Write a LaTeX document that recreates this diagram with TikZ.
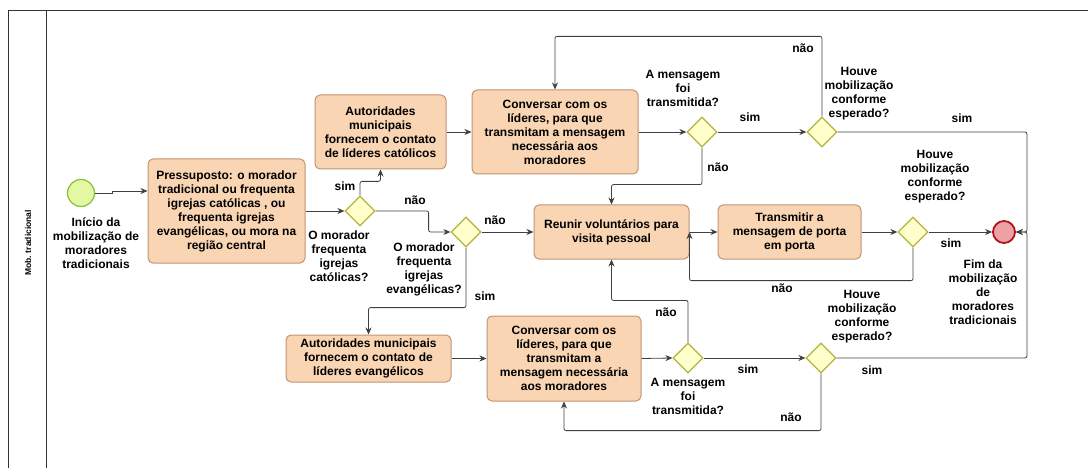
\documentclass[tikz,border=0pt]{standalone}
\usepackage{fontspec}
\setmainfont{Liberation Sans}
\usetikzlibrary{shapes.geometric,arrows.meta}
\definecolor{taskfill}{HTML}{F9D5B4}
\definecolor{taskline}{HTML}{C39372}
\definecolor{gatefill}{HTML}{FFFFCC}
\definecolor{gateline}{HTML}{B5B33C}
\definecolor{startfill}{HTML}{E4F7A2}
\definecolor{startline}{HTML}{88C13C}
\definecolor{endfill}{HTML}{ECA2A5}
\definecolor{endline}{HTML}{B2121B}
\definecolor{flowline}{HTML}{404040}
\begin{document}
\begin{tikzpicture}[x=1pt,y=-1pt,
  every node/.style={font=\fontsize{12}{14}\selectfont\bfseries, align=center, inner sep=0pt},
  task/.style={draw=taskline, fill=taskfill, rounded corners=5pt, line width=1pt},
  gate/.style={diamond, draw=gateline, fill=gatefill, line width=1.2pt, minimum width=30pt, minimum height=30pt},
  flow/.style={draw=flowline, line width=0.8pt, rounded corners=2pt, -{Stealth[length=7pt,width=6pt]}},
  lbl/.style={text=black}]
  \useasboundingbox (0,0) rectangle (1088,468);
  \draw[line width=1pt, black!80] (1088,11) -- (8,11) -- (8,468);
  \draw[line width=1pt, black!80] (46,11) -- (46,468);
  \node[rotate=90, font=\fontsize{8.5}{10}\selectfont\bfseries] (lane) at (28,243) {Mob. tradicional};

  % eventos
  \node[circle, draw=startline, fill=startfill, line width=1.2pt, minimum size=27pt] (ini) at (81,193) {};
  \node[lbl] (iniTxt) at (96,243) {Início da\\mobilização de\\moradores\\tradicionais};
  \node[circle, draw=endline, fill=endfill, line width=1.8pt, minimum size=22pt] (fim) at (1004,232) {};
  \node[lbl] (fimTxt) at (983,292) {Fim da\\mobilização\\de\\moradores\\tradicionais};

  % tarefas
  \node[task, minimum width=157pt, minimum height=104pt] (pres) at (226.5,211) {Pressuposto: o morador\\tradicional ou frequenta\\igrejas católicas , ou\\frequenta igrejas\\evangélicas, ou mora na\\região central};
  \node[task, minimum width=131pt, minimum height=74pt] (autCat) at (380.5,132) {Autoridades\\municipais\\fornecem o contato\\de líderes católicos};
  \node[task, minimum width=166pt, minimum height=84pt] (convCat) at (555,132) {Conversar com os\\líderes, para que\\transmitam a mensagem\\necessária aos\\moradores};
  \node[task, minimum width=155pt, minimum height=54pt] (reunir) at (611.5,232) {Reunir voluntários para\\visita pessoal};
  \node[task, minimum width=143pt, minimum height=54pt] (transm) at (789.5,232) {Transmitir a\\mensagem de porta\\em porta};
  \node[task, minimum width=165pt, minimum height=47pt] (autEv) at (368.5,358.5) {Autoridades municipais\\fornecem o contato de\\líderes evangélicos};
  \node[task, minimum width=154pt, minimum height=85pt] (convEv) at (564,358.5) {Conversar com os\\líderes, para que\\transmitam a\\mensagem necessária\\aos moradores};

  % gateways
  \node[gate] (gCat) at (360,211) {};
  \node[gate] (gEv) at (466,232) {};
  \node[gate] (gMsgCat) at (702,132) {};
  \node[gate] (gMobCat) at (822,132) {};
  \node[gate] (gMobPorta) at (913,232) {};
  \node[gate] (gMsgEv) at (688,358) {};
  \node[gate] (gMobEv) at (821,358) {};
  \node[lbl] (gCatTxt) at (339,256) {O morador\\frequenta\\igrejas\\católicas?};
  \node[lbl] (gEvTxt) at (424,269) {O morador\\frequenta\\igrejas\\evangélicas?};
  \node[lbl] (gMsgCatTxt) at (683,88) {A mensagem\\foi\\transmitida?};
  \node[lbl] (gMobCatTxt) at (859,94) {Houve\\mobilização\\conforme\\esperado?};
  \node[lbl] (gMobPortaTxt) at (935,177) {Houve\\mobilização\\conforme\\esperado?};
  \node[lbl] (gMsgEvTxt) at (688,396) {A mensagem\\foi\\transmitida?};
  \node[lbl] (gMobEvTxt) at (862,317) {Houve\\mobilização\\conforme\\esperado?};

  % fluxos
  \draw[flow, rounded corners=0pt] (ini.east) -- ++(17,0) -- ++(0,-2) -- ([yshift=20pt]pres.west);
  \draw[flow] (pres.east) -- (gCat.west);
  \draw[flow] (gCat.north) -- ++(0,-14) -| (autCat.south);
  \draw[flow] (autCat.east) -- (convCat.west);
  \draw[flow] (convCat.east) -- (gMsgCat.west);
  \draw[flow] (gMsgCat.east) -- (gMobCat.west);
  \draw[flow] (gMobCat.north) -- ++(0,-80) -| (convCat.north);
  \draw[flow] (gMobCat.east) -| ([xshift=11pt]fim.east) -- (fim.east);
  \draw[flow] (gMsgCat.south) -- ++(0,37) -| (reunir.north);
  \draw[flow] (gCat.east) -- ++(53,0) |- (gEv.west);
  \draw[flow] (gEv.east) -- (reunir.west);
  \draw[flow] (reunir.east) -- (transm.west);
  \draw[flow] (transm.east) -- (gMobPorta.west);
  \draw[flow] (gMobPorta.east) -- (fim.west);
  \draw[flow] (gMobPorta.south) -- ++(0,33) -| (reunir.east);
  \draw[flow] (gEv.south) -- ++(0,60) -| (autEv.north);
  \draw[flow] (autEv.east) -- (convEv.west);
  \draw[flow] (convEv.east) -- (gMsgEv.west);
  \draw[flow] (gMsgEv.north) -- ++(0,-42) -| (reunir.south);
  \draw[flow] (gMsgEv.east) -- (gMobEv.west);
  \draw[flow] (gMobEv.south) -- ++(0,57) -| (convEv.south);
  \draw[flow] (gMobEv.east) -| ([xshift=11pt]fim.east) -- (fim.east);

  % rotulos dos fluxos
  \node[lbl] (simCat) at (345,186) {sim};
  \node[lbl] (naoCat) at (415,200) {não};
  \node[lbl] (naoEv) at (495,220) {não};
  \node[lbl] (simEv) at (485,296) {sim};
  \node[lbl] (simMsgCat) at (750,117) {sim};
  \node[lbl] (naoMsgCat) at (718,167) {não};
  \node[lbl] (naoMobCat) at (803,48) {não};
  \node[lbl] (simMobCat) at (962,118) {sim};
  \node[lbl] (simMobPorta) at (951,243) {sim};
  \node[lbl] (naoMobPorta) at (782,288) {não};
  \node[lbl] (naoMsgEv) at (666,312) {não};
  \node[lbl] (simMsgEv) at (748,369) {sim};
  \node[lbl] (simMobEv) at (872,370) {sim};
  \node[lbl] (naoMobEv) at (791,417) {não};
\end{tikzpicture}
\end{document}
